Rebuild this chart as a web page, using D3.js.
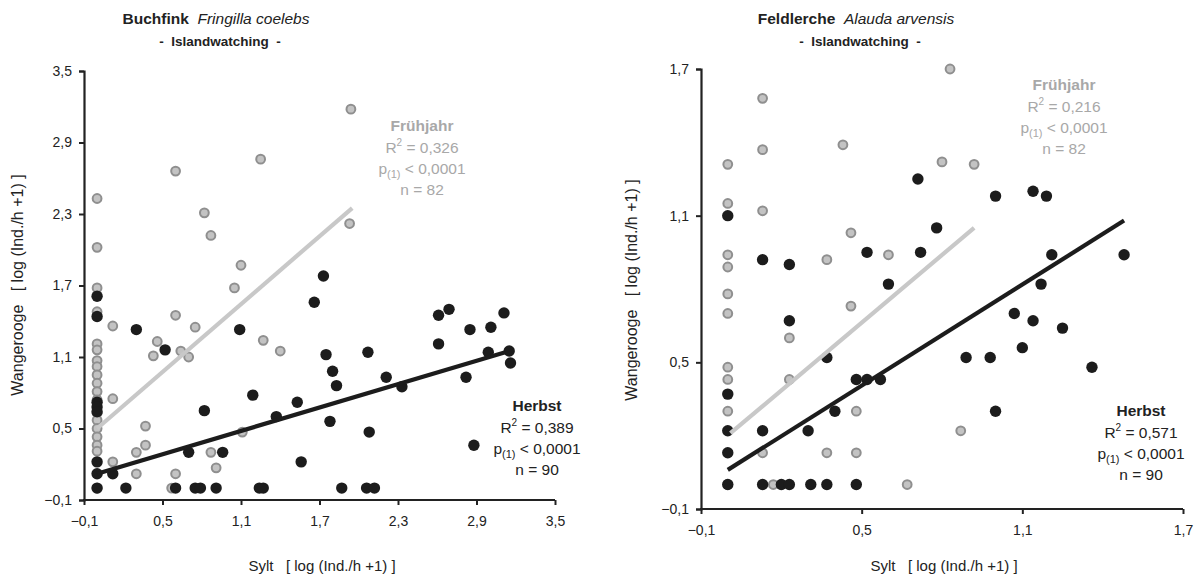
<!DOCTYPE html>
<html><head><meta charset="utf-8">
<script src="https://cdn.jsdelivr.net/npm/d3@7"></script>
<style>
body{margin:0;background:#fff;}
svg{display:block;font-family:"Liberation Sans",Arial,sans-serif;}
</style></head>
<body>
<svg id="c" width="1204" height="579"></svg>
<script>
// ---------- DATA ----------
const ticksLeft = [-0.1, 0.5, 1.1, 1.7, 2.3, 2.9, 3.5];
const ticksRight = [-0.1, 0.5, 1.1, 1.7];

// Buchfink - Frühjahr (grey) [Sylt, Wangerooge]
const buchFruehX = [0,0,0,0,0,0,0,0,0,0,0,0,0,0,0,0,0,0,0,
  0.12,0.12,0.12,0.30,0.30,0.37,0.37,0.43,0.46,0.57,0.60,0.60,0.60,0.64,0.70,0.75,0.82,0.87,0.87,0.91,1.05,1.10,1.11,1.25,1.27,1.40,1.93,1.94];
const buchFruehY = [2.43,2.02,1.68,1.48,1.21,1.16,1.07,1.02,0.95,0.88,0.81,0.74,0.63,0.57,0.50,0.43,0.36,0.31,0.0,
  1.36,0.75,0.22,0.30,0.12,0.52,0.36,1.11,1.23,0.0,0.12,1.45,2.66,1.15,1.10,1.35,2.31,2.12,0.30,0.17,1.68,1.87,0.47,2.76,1.24,1.15,2.22,3.18];
// Buchfink - Herbst (black)
const buchHerbstX = [0,0,0,0,0,0,0,0,
  0.12,0.22,0.30,0.52,0.60,0.70,0.75,0.79,0.82,0.91,0.96,1.09,1.19,1.24,1.27,1.37,1.53,1.56,1.66,1.73,1.75,1.78,1.80,1.83,1.87,2.06,2.12,2.07,2.08,2.21,2.33,2.61,2.61,2.69,2.82,2.85,2.88,2.99,3.01,3.11,3.15,3.16];
const buchHerbstY = [1.61,1.44,0.72,0.68,0.64,0.22,0.12,0.0,
  0.12,0.0,1.33,1.16,0.0,0.30,0.0,0.0,0.65,0.0,0.30,1.33,0.78,0.0,0.0,0.60,0.72,0.22,1.56,1.78,1.12,0.56,0.98,0.86,0.0,0.0,0.0,1.14,0.47,0.93,0.85,1.45,1.21,1.50,0.93,1.33,0.36,1.14,1.35,1.47,1.15,1.05];

// Feldlerche - Frühjahr (grey)
const feldFruehX = [0,0,0,0,0,0,0,0,0,0,
  0.13,0.13,0.13,0.13,0.17,0.23,0.23,0.37,0.37,0.43,0.46,0.46,0.48,0.48,0.60,0.67,0.80,0.83,0.87,0.92];
const feldFruehY = [1.31,1.15,0.94,0.89,0.78,0.70,0.48,0.43,0.30,0.0,
  1.58,1.37,1.12,0.13,0.0,0.60,0.43,0.92,0.13,1.39,1.03,0.73,0.30,0.13,0.94,0.0,1.32,1.70,0.22,1.31];
// Feldlerche - Herbst (black)
const feldHerbstX = [0,0,0,0,0,
  0.13,0.13,0.13,0.20,0.23,0.23,0.23,0.30,0.31,0.37,0.37,0.40,0.48,0.48,0.52,0.52,0.57,0.60,0.71,0.72,0.78,0.89,0.98,1.00,1.00,1.07,1.10,1.14,1.14,1.17,1.19,1.21,1.25,1.36,1.48];
const feldHerbstY = [1.10,0.37,0.22,0.13,0.0,
  0.92,0.22,0.0,0.0,0.0,0.90,0.67,0.22,0.0,0.52,0.0,0.30,0.43,0.0,0.95,0.43,0.43,0.82,1.25,0.95,1.05,0.52,0.52,1.18,0.30,0.70,0.56,1.20,0.67,0.82,1.18,0.94,0.64,0.48,0.94];

// regression line end points [x0, y0, x1, y1]
const buchFruehLine = [0, 0.50, 1.95, 2.35];
const buchHerbstLine = [0, 0.12, 3.12, 1.14];
const feldFruehLine = [0.01, 0.21, 0.92, 1.05];
const feldHerbstLine = [0, 0.06, 1.48, 1.08];

const buchFruehStats = ["0,326", "82"];
const buchHerbstStats = ["0,389", "90"];
const feldFruehStats = ["0,216", "82"];
const feldHerbstStats = ["0,571", "90"];

// ---------- DRAW ----------
const svg = d3.select("#c");
const GREY_FILL = "#c3c3c3", GREY_STROKE = "#8f8f8f", BLACK = "#1c1c1c", LINE_GREY = "#c8c8c8";
const fmt = v => d3.format(".1f")(v).replace(".", ",");

function panel(cfg){
  const x = d3.scaleLinear().domain(cfg.domain).range(cfg.xr);
  const y = d3.scaleLinear().domain(cfg.domain).range(cfg.yr);
  const g = svg.append("g");

  // axes
  const ax = g.append("g").attr("transform", `translate(0,${cfg.yr[0]})`)
    .call(d3.axisBottom(x).tickValues(cfg.ticks).tickFormat(fmt).tickSizeOuter(0).tickSize(5).tickPadding(11));
  const ay = g.append("g").attr("transform", `translate(${cfg.xr[0]},0)`)
    .call(d3.axisLeft(y).tickValues(cfg.ticks).tickFormat(fmt).tickSizeOuter(0).tickSize(5).tickPadding(7));
  [ax, ay].forEach(a => {
    a.select(".domain").attr("stroke", "#222").attr("stroke-width", 2.2);
    a.selectAll(".tick line").attr("stroke", "#222").attr("stroke-width", 2);
    a.selectAll(".tick text").attr("fill", "#222").style("font-size", "14px").style("font-family", '"Liberation Sans",Arial,sans-serif');
  });
  ax.select(".domain").attr("d", `M${cfg.xr[0]-1},0H${cfg.xr[1]}`);

  // points
  const gp = cfg.gx.map((v,i)=>[v, cfg.gy[i]]);
  g.append("g").selectAll("circle").data(gp).join("circle")
    .attr("cx", d=>x(d[0])).attr("cy", d=>y(d[1])).attr("r", 4.4)
    .attr("fill", GREY_FILL).attr("stroke", GREY_STROKE).attr("stroke-width", 2);
  const bp = cfg.bx.map((v,i)=>[v, cfg.by[i]]);
  g.append("g").selectAll("circle").data(bp).join("circle")
    .attr("cx", d=>x(d[0])).attr("cy", d=>y(d[1])).attr("r", 5.7)
    .attr("fill", BLACK);

  // trend lines
  [[cfg.gl, LINE_GREY],[cfg.bl, BLACK]].forEach(([l,c]) => {
    g.append("line").attr("x1", x(l[0])).attr("y1", y(l[1])).attr("x2", x(l[2])).attr("y2", y(l[3]))
      .attr("stroke", c).attr("stroke-width", 4.2);
  });

  // annotations
  function stats(cx, y0, label, st, color){
    const t = g.append("g").attr("fill", color).attr("text-anchor", "middle").style("font-size", "15.5px");
    t.append("text").attr("x", cx).attr("y", y0).style("font-weight", "bold").text(label);
    const r = t.append("text").attr("x", cx).attr("y", y0 + 22);
    r.append("tspan").text("R");
    r.append("tspan").attr("dy", -7).style("font-size", "10px").text("2");
    r.append("tspan").attr("dy", 7).text(" = " + st[0]);
    const p = t.append("text").attr("x", cx).attr("y", y0 + 43);
    p.append("tspan").text("p");
    p.append("tspan").attr("dy", 4).style("font-size", "11px").text("(1)");
    p.append("tspan").attr("dy", -4).text(" < 0,0001");
    t.append("text").attr("x", cx).attr("y", y0 + 64).text("n = " + st[1]);
  }
  stats(cfg.fa[0], cfg.fa[1], "Frühjahr", cfg.fs, "#a8a8a8");
  stats(cfg.ha[0], cfg.ha[1], "Herbst", cfg.hs, "#222");

  // titles
  const tt = g.append("text").attr("x", cfg.title[0]).attr("y", cfg.title[1]).attr("text-anchor", "middle")
    .attr("fill", "#222").style("font-size", "15.5px");
  tt.append("tspan").style("font-weight", "bold").text(cfg.name);
  tt.append("tspan").style("font-style", "italic").text("\u00a0\u00a0" + cfg.latin);
  g.append("text").attr("x", cfg.title[0] + 4).attr("y", cfg.title[1] + 22).attr("text-anchor", "middle")
    .attr("fill", "#222").style("font-size", "13.5px").style("font-weight", "bold")
    .text("-\u00a0\u00a0Islandwatching\u00a0\u00a0-");

  // axis titles
  g.append("text").attr("transform", `translate(${cfg.ylab[0]},${cfg.ylab[1]}) rotate(-90)`)
    .attr("text-anchor", "middle").attr("fill", "#222").style("font-size", "16px")
    .text("Wangerooge\u00a0\u00a0\u00a0[ log (Ind./h +1) ]");
  g.append("text").attr("x", cfg.xlab[0]).attr("y", cfg.xlab[1])
    .attr("text-anchor", "middle").attr("fill", "#222").style("font-size", "15px")
    .text("Sylt\u00a0\u00a0\u00a0[ log (Ind./h +1) ]");
}

panel({domain:[-0.1,3.5], xr:[84,555], yr:[500,71], ticks:ticksLeft,
  gx:buchFruehX, gy:buchFruehY, bx:buchHerbstX, by:buchHerbstY,
  gl:buchFruehLine, bl:buchHerbstLine,
  fa:[422,131], fs:buchFruehStats, ha:[537,411], hs:buchHerbstStats,
  name:"Buchfink", latin:"Fringilla coelebs", title:[216,24],
  ylab:[23,285], xlab:[322,571]});

panel({domain:[-0.1,1.7], xr:[701,1183], yr:[509,69], ticks:ticksRight,
  gx:feldFruehX, gy:feldFruehY, bx:feldHerbstX, by:feldHerbstY,
  gl:feldFruehLine, bl:feldHerbstLine,
  fa:[1064,90], fs:feldFruehStats, ha:[1141,416], hs:feldHerbstStats,
  name:"Feldlerche", latin:"Alauda arvensis", title:[856,24],
  ylab:[637,290], xlab:[944,571]});
</script>
</body></html>
